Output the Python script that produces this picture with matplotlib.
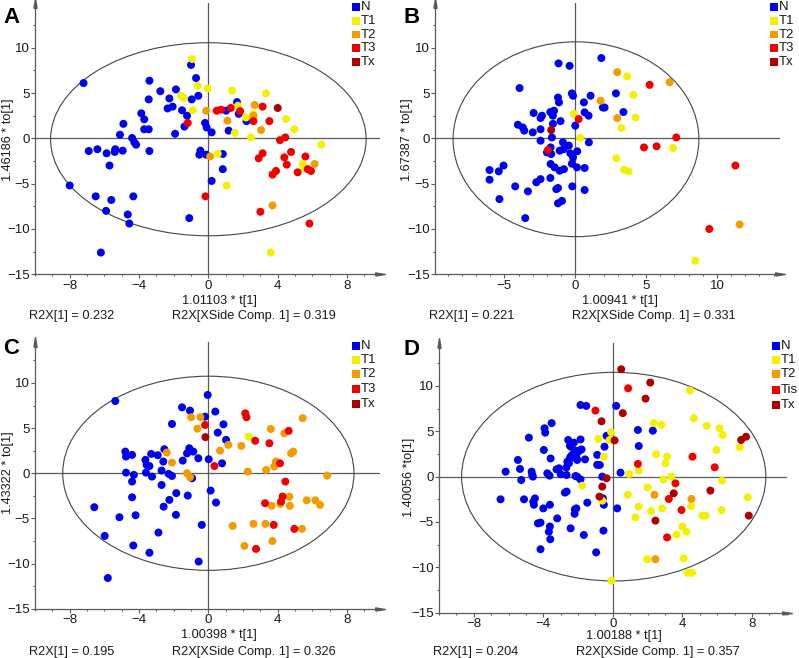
import matplotlib
matplotlib.use("Agg")
import matplotlib.pyplot as plt
from matplotlib.patches import Ellipse, Rectangle
from matplotlib.ticker import MultipleLocator

plt.rcParams['font.family'] = ['Liberation Sans', 'DejaVu Sans']

W, H = 799, 658

# ---------------- colours ----------------
COL = {'N': '#0000F0', 'T1': '#F2F200', 'T2': '#F29C00', 'T3': '#F00000',
       'Tis': '#F00000', 'Tx': '#AE0000'}

# ---------------- Panel A ----------------
A_N_x = [-7.2, -8.0, -6.2, -6.5, -5.9, -5.6, -4.65, -4.56, -4.33, -6.9, -6.4, -5.87, -5.7, -5.4, -5.37,
         -4.94, -4.9, -5.1, -4.4, -4.27, -4.17, -3.87, -3.7, -3.4, -3.44, -3.7, -3.44, -3.4, -2.77, -2.35,
         -2.25, -2.06, -1.92, -1.87, -1.52, -1.38, -1.23, -1.0, -0.96, -0.71, -0.58, -1.1, -0.19, -0.1, 0.19,
         -0.52, -0.46, -0.13, 0.19, 0.83, 0.83, 1.02, 1.17, 1.65, 1.75, 2.2]
A_N_y = [6.1, -5.2, -12.6, -6.4, -8.0, -6.8, -8.4, -9.4, -6.4, -1.4, -1.2, -1.65, -3.0, -1.5, -1.2,
         -1.36, 1.6, 0.4, 0.04, -0.44, -0.7, 2.76, 2.1, 6.36, 4.3, 1.0, 1.0, -1.4, 5.2, 3.3,
         4.4, 3.5, 0.5, 5.4, 3.1, 1.3, 2.5, 8.1, 4.3, 6.65, 4.7, -8.8, 1.7, 1.2, 0.66,
         -1.8, -1.36, -1.8, -4.7, -1.73, -3.4, 3.05, 0.85, 4.0, 2.7, 1.9]
A_T1_x = [-0.94, -1.58, -1.42, -0.9, -0.62, -0.04, 0.54, 1.06, 1.37, 1.52, 1.71, 2.17, 2.46, 2.6, 3.33,
          4.48, 4.96, 3.6, 5.44, 5.5, 6.52]
A_T1_y = [8.75, 4.7, 4.45, 3.1, 5.8, 5.5, -1.7, -5.2, 5.26, 0.6, 3.6, 2.3, 0.1, 2.7, 4.96,
          2.13, 1.0, -12.6, -2.83, -3.2, -0.7]
A_T2_x = [-0.13, 0.1, 1.1, 2.67, 2.6, 3.04, 3.7, 6.13]
A_T2_y = [3.05, -2.0, 1.95, 3.68, 2.5, 0.92, -7.4, -2.83]
A_T3_x = [-1.19, -0.17, 0.48, 0.73, 1.29, 1.83, 2.6, 3.13, 3.52, 3.13, 2.9, 3.0, 3.9, 3.7, 4.13,
          4.44, 4.38, 4.52, 4.77, 5.6, 5.15, 5.73, 5.92, 5.83]
A_T3_y = [1.7, -6.4, 3.05, 3.16, 3.35, 3.0, 1.9, 3.5, 1.9, -1.65, -2.2, -8.1, -3.6, -4.0, -0.2,
          0.1, -2.1, -2.9, -1.5, -2.0, -3.75, -3.4, -3.6, -9.4]
A_Tx_x = [4.0]
A_Tx_y = [3.35]

# ---------------- Panel B ----------------
B_N_x = [1.84, -1.18, -0.4, -3.93, -2.94, -4.05, -3.7, -3.6, -3.0, -2.45,
         -2.35, -2.45, -2.45, -1.22, -1.15, -1.76, -1.5, -1.58, -1.04, -1.58,
         -1.65, -1.74, -1.7, -2.0, -1.74, -1.46, -1.1, -0.8, -0.87, -0.82,
         -1.1, -0.45, -0.35, -0.16, -0.24, 0.14, 0.12, 0.66, 0.66, -0.21,
         -0.24, -0.16, 0.61, 0.66, 0.94, 1.08, 0.96, 0.0, 1.95, 2.07,
         2.87, 3.4, -6.05, -6.05, -5.4, -5.06, -5.35, -4.24, -3.34, -3.53,
         -2.75, -2.45, -1.76, -1.34, -1.22, -1.22, -0.94]
B_N_y = [8.86, 8.27, 8.0, 5.55, 2.8, 1.5, 1.2, 0.85, 0.66, 2.24,
         2.5, 1.0, -0.26, 4.5, 3.97, 2.9, 3.05, 2.5, 1.9, 1.6,
         0.1, -1.0, -1.73, -1.55, -2.83, -3.2, -3.57, -3.4, -0.44, -1.2,
         -1.36, -0.8, -1.65, -2.1, -2.8, -1.43, -3.2, -3.27, -5.7, -5.3,
         4.96, 4.7, 3.97, 2.87, 2.5, 4.7, -0.44, 1.4, 3.4, 3.4,
         4.96, 2.9, -3.5, -4.56, -3.64, -3.0, -6.7, -5.3, -5.85, -8.8,
         -4.85, -4.5, -4.37, -5.6, -5.48, -7.17, -6.9]
B_T1_x = [-0.1, 0.35, 3.67, 4.1, 4.26, 3.25, 2.9, 3.44, 3.76, 6.9, 8.47]
B_T1_y = [2.7, 0.04, 6.84, 4.8, 2.3, 1.14, -2.2, -3.46, -3.64, -1.07, -13.5]
B_T2_x = [2.96, 1.79, 2.96, 6.66, 11.6]
B_T2_y = [7.3, 4.15, 2.24, 6.2, -9.5]
B_T3_x = [0.24, -1.93, 5.25, 4.85, 5.74, 7.13, 11.3, 9.46]
B_T3_y = [2.13, -1.29, 5.9, -1.0, -0.88, 0.1, -3.0, -10.0]
B_Tx_x = [-1.7]
B_Tx_y = [0.92]

# ---------------- Panel C ----------------
C_N_x = [-5.37, -6.58, -5.98, -5.8, -5.13, -4.79, -4.75, -4.4, -4.75, -4.4,
         -4.3, -4.4, -4.2, -4.33, -3.63, -3.56, -3.6, -3.4, -3.3, -3.25,
         -3.4, -2.92, -2.88, -2.7, -2.7, -2.58, -2.54, -2.6, -2.29, -2.25,
         -2.1, -2.1, -1.87, -1.85, -1.52, -1.48, -1.23, -1.19, -1.06, -1.1,
         -0.87, -0.94, -0.58, -0.56, -0.38, -0.19, -0.04, 0.02, 0.13, 0.44,
         0.4, 0.54, 0.87, 0.79, 1.02]
C_N_y = [8.0, -3.76, -6.94, -11.6, -4.87, 2.4, 1.85, 2.03, 0.07, -0.92,
         -0.18, -2.66, -4.65, -8.0, 1.48, 0.92, 0.07, 0.8, 2.14, -0.37,
         -8.8, 2.0, -6.57, 0.3, -1.3, -3.7, 2.66, 1.3, -0.07, -2.95,
         -0.3, 5.46, -4.6, -2.2, 7.3, 1.4, 2.2, -2.47, 6.94, 2.77,
         2.4, -0.55, 1.66, -9.78, -5.72, 6.27, 8.67, 1.55, -1.92, -3.25,
         6.83, 4.5, 5.42, 1.1, 3.7]
C_T1_x = [2.33]
C_T1_y = [4.06]
C_T2_x = [-2.4, -2.1, -1.23, -1.06, -1.0, -0.46, -0.63, 0.67, 1.15, 1.9,
          1.4, 2.08, 2.6, 2.27, 3.29, 3.33, 3.6, 3.65, 3.69, 3.8,
          3.9, 4.15, 4.38, 4.67, 4.7, 4.77, 4.9, 5.44, 5.4, 5.67,
          6.17, 6.44, 6.85]
C_T2_y = [2.29, 1.18, 0.0, -0.44, 6.2, 6.2, 4.94, 2.5, 3.14, 3.03,
          -5.83, -8.04, -5.6, 0.18, -5.6, 0.37, 4.9, -3.6, -7.5, 0.74,
          1.3, -3.4, 4.43, -2.6, -3.6, 2.2, 2.4, 6.1, -6.16, -3.0,
          -3.0, -3.5, -0.26]
C_T3_x = [-0.19, 0.35, 2.13, 2.2, 2.7, 3.52, 3.27, 3.77, 2.75, 4.13, 4.19, 4.28, 4.44, 4.63, 4.96]
C_T3_y = [5.35, 0.8, 6.64, 6.2, 3.6, 3.32, -3.32, -5.72, -8.38, 1.1, -3.14, -2.58, -0.92, 4.7, -6.16]
C_Tx_x = [-0.17]
C_Tx_y = [4.0]

# ---------------- Panel D ----------------
D_N_x = [-6.46, -6.17, -5.46, -5.34, -5.27, -5.11, -4.83, -4.67, -4.64, -4.6,
         -4.58, -4.54, -4.48, -4.31, -4.16, -4.16, -4.0, -3.97, -3.93, -3.89,
         -3.77, -3.68, -3.62, -3.6, -3.58, -3.62, -3.52, -3.64, -3.2, -3.1,
         -3.0, -2.76, -2.68, -2.57, -2.53, -2.47, -2.4, -2.34, -2.43, -2.24,
         -2.2, -2.18, -2.15, -2.09, -1.92, -1.86, -1.86, -1.86, -1.67, -1.6,
         -1.53, -1.47, -0.96, -0.9, -0.75, -0.61, -0.57, -0.52, -0.48, -0.54,
         -0.36, 0.19, 0.25, 0.44, 1.44, 1.49, 2.3, -2.47, -2.43, -2.05,
         -2.62, -3.24, -2.66, -2.05, -2.66, -2.1, -2.05, -0.9, -2.2, -1.8]
D_N_y = [-2.5, 0.55, 1.84, 0.85, -0.37, -2.5, 4.3, 0.55, 0.18, 0.0,
         -2.76, -3.1, -2.4, -5.15, -5.07, -8.0, -3.5, 2.94, 5.33, 4.85,
         0.37, -6.07, -5.5, -6.9, 2.0, -3.1, 5.9, 0.11, -4.6, 0.92,
         0.26, -1.76, 1.0, 4.04, 1.47, 2.0, 3.3, 2.4, -5.7, 3.75,
         -4.1, -3.6, 0.07, 2.0, 2.87, 4.1, 7.9, -0.3, -6.43, 1.9,
         7.8, -2.87, -8.35, 2.4, 1.29, 0.0, -2.39, -3.1, 3.3, -5.95,
         4.5, 7.8, -3.5, 0.44, 5.15, 3.38, 5.07, 3.4, 2.2, 1.84,
         1.65, 0.81, 0.18, 0.0, -1.65, -3.5, 2.65, 1.3, 2.9, 3.0]
D_T1_x = [-1.76, -0.84, -0.52, -0.1, -0.19, -0.61, -0.08, 0.94, 0.86, 1.49,
          1.48, 1.3, 2.0, 2.2, 2.36, 2.49, 2.8, 2.84, 3.03, 3.12,
          2.9, 3.37, 3.66, 4.0, 4.23, 4.08, 4.31, 4.56, 4.44, 4.66,
          4.5, 1.97, 5.33, 5.4, 6.13, 6.32, 5.96, 6.28, 6.25, 7.3,
          7.76, 5.15]
D_T1_y = [-1.0, 4.15, 2.2, 4.9, 4.04, -2.65, -11.47, 0.3, -2.0, 0.66,
          -3.3, -4.5, -1.18, -3.8, 5.9, 2.46, 5.7, -3.5, 1.47, 2.2,
          -0.3, 0.0, -6.4, -5.5, -6.07, -9.0, -10.6, -10.6, 9.5, 6.43,
          -3.24, -9.1, -4.3, 5.6, 5.33, 4.6, 2.94, -0.44, -3.68, 3.23,
          -2.28, -4.3]
D_T2_x = [2.39, 2.45, 4.52]
D_T2_y = [-2.0, -9.1, -2.46]
D_Tis_x = [-1.0, 0.88, 1.44, 3.6, 3.22, 3.12, 3.95, 4.58, 5.86]
D_Tis_y = [7.28, 9.74, 1.4, -0.74, -2.46, -6.7, -3.68, 2.2, 1.03]
D_Tx_x = [0.48, 2.15, 1.88, 0.57, -0.65, 0.1, -0.36, -0.61, -0.77, 2.45, 3.5, 5.61, 7.38, 7.66, 7.82]
D_Tx_y = [11.84, 10.37, 8.6, 7.0, 6.1, 4.0, -0.18, -1.1, -2.2, -4.85, -1.84, -1.54, 4.04, 4.4, -4.3]

# ---------------- text ----------------
A_xlabel, A_ylabel = "1.01103 * t[1]", "1.46186 * to[1]"
B_xlabel, B_ylabel = "1.00941 * t[1]", "1.67387 * to[1]"
C_xlabel, C_ylabel = "1.00398 * t[1]", "1.43322 * to[1]"
D_xlabel, D_ylabel = "1.00188 * t[1]", "1.40056 *to[1]"
A_r2 = ["R2X[1] = 0.232", "R2X[XSide Comp. 1] = 0.319"]
B_r2 = ["R2X[1] = 0.221", "R2X[XSide Comp. 1] = 0.331"]
C_r2 = ["R2X[1] = 0.195", "R2X[XSide Comp. 1] = 0.326"]
D_r2 = ["R2X[1] = 0.204", "R2X[XSide Comp. 1] = 0.357"]
ABC_classes = ['N', 'T1', 'T2', 'T3', 'Tx']
D_classes = ['N', 'T1', 'T2', 'Tis', 'Tx']

GRAY = '#5a5a5a'
TXT = '#1a1a1a'
FS_TICK = 9.5
FS = 9.2

# narrow arrow-head markers
ARROW_UP = [(-0.32, -1.0), (0.32, -1.0), (0.0, 1.0), (-0.32, -1.0)]
ARROW_RIGHT = [(-1.0, -0.32), (-1.0, 0.32), (1.0, 0.0), (-1.0, -0.32)]

fig = plt.figure(figsize=(W / 100, H / 100), dpi=100)


def fx(x):
    return x / W


def fy(y):
    return 1 - y / H


def make_axes(left, right, top, bottom):
    return fig.add_axes([fx(left), fy(bottom), (right - left) / W, (bottom - top) / H])


def panel(ax, series, xlim, ylim, xmajor, ell):
    ax.set_xlim(*xlim)
    ax.set_ylim(*ylim)
    ax.set_facecolor('none')
    for s in ['top', 'right']:
        ax.spines[s].set_visible(False)
    for s in ['left', 'bottom']:
        ax.spines[s].set_color(GRAY)
        ax.spines[s].set_linewidth(0.9)
    ax.xaxis.set_major_locator(MultipleLocator(xmajor))
    ax.xaxis.set_minor_locator(MultipleLocator(1))
    ax.yaxis.set_major_locator(MultipleLocator(5))
    ax.yaxis.set_minor_locator(MultipleLocator(2.5))
    ax.tick_params(which='both', direction='out', color=GRAY, labelcolor=TXT, labelsize=FS_TICK, width=0.8)
    ax.tick_params(which='major', length=2.6, pad=1.2)
    ax.tick_params(which='minor', length=1.6)
    ax.axhline(0, color=GRAY, lw=0.9, zorder=1)
    ax.axvline(0, color=GRAY, lw=0.9, zorder=1)
    e = Ellipse(ell[0], ell[1], ell[2], fill=False, edgecolor='#444444', lw=0.8, zorder=1)
    ax.add_patch(e)
    for (xs, ys, c) in series:
        n = min(len(xs), len(ys))
        ax.scatter(xs[:n], ys[:n], s=33, color=COL[c], edgecolors='none', zorder=3)
    # axis arrows
    ax.plot([0], [1], marker=ARROW_UP, color=GRAY, ms=7, transform=ax.transAxes, clip_on=False, zorder=5)
    ax.plot([1], [0], marker=ARROW_RIGHT, color=GRAY, ms=7, transform=ax.transAxes, clip_on=False, zorder=5)


def legend(xsq, rows, labels):
    for yy, lab in zip(rows, labels):
        fig.patches.append(Rectangle((fx(xsq - 3.8), fy(yy + 3.8)), 7.6 / W, 7.6 / H,
                                     transform=fig.transFigure, facecolor=COL[lab], edgecolor='none'))
        fig.text(fx(xsq + 4.5), fy(yy), lab, fontsize=FS_TICK, color=TXT, va='center', ha='left')


def texts(letter, lpos, xlabel, xlpos, ylabel, ylpos, r2, r2y, r2x):
    fig.text(fx(lpos[0]), fy(lpos[1]), letter, fontsize=16, fontweight='bold', va='top', ha='left')
    fig.text(fx(xlpos[0]), fy(xlpos[1]), xlabel, fontsize=FS, color=TXT, ha='center', va='center')
    fig.text(fx(ylpos[0]), fy(ylpos[1]), ylabel, fontsize=FS, color=TXT, ha='center', va='center',
             rotation=90)
    fig.text(fx(r2x[0]), fy(r2y), r2[0], fontsize=FS, color=TXT, ha='left', va='center')
    fig.text(fx(r2x[1]), fy(r2y), r2[1], fontsize=FS, color=TXT, ha='left', va='center')


# Panel A
axA = make_axes(35, 380, 3.3, 274.3)
panel(axA, [(A_N_x, A_N_y, 'N'), (A_T1_x, A_T1_y, 'T1'), (A_T2_x, A_T2_y, 'T2'),
            (A_T3_x, A_T3_y, 'T3'), (A_Tx_x, A_Tx_y, 'Tx')],
      (-10, 9.9), (-15, 14.9), 4, ((0, -0.1), 18.2, 21.3))
texts('A', (3, 7), A_xlabel, (219, 301), A_ylabel, (8, 140), A_r2, 316.5, (29, 172))
legend(356, [7, 21, 34.5, 48, 62], ABC_classes)

# Panel B
axB = make_axes(435, 780, 3.3, 274.3)
panel(axB, [(B_N_x, B_N_y, 'N'), (B_T1_x, B_T1_y, 'T1'), (B_T2_x, B_T2_y, 'T2'),
            (B_T3_x, B_T3_y, 'T3'), (B_Tx_x, B_Tx_y, 'Tx')],
      (-9.9, 14.45), (-15, 14.9), 5, ((0.05, -0.1), 17.35, 21.5))
texts('B', (403, 7), B_xlabel, (620, 301), B_ylabel, (407, 140), B_r2, 316.5, (429, 572))
legend(774, [7, 21, 34.5, 48, 62], ABC_classes)

# Panel C
axC = make_axes(35, 380, 341.7, 608.7)
panel(axC, [(C_N_x, C_N_y, 'N'), (C_T1_x, C_T1_y, 'T1'), (C_T2_x, C_T2_y, 'T2'),
            (C_T3_x, C_T3_y, 'T3'), (C_Tx_x, C_Tx_y, 'Tx')],
      (-10, 9.9), (-15, 14.57), 4, ((0, 0), 16.8, 21.5))
texts('C', (3, 338), C_xlabel, (219, 635), C_ylabel, (8, 473), C_r2, 651.5, (29, 172))
legend(356, [346, 360, 374, 389, 404], ABC_classes)

# Panel D
axD = make_axes(439, 786.7, 343.3, 612.7)
panel(axD, [(D_N_x, D_N_y, 'N'), (D_T1_x, D_T1_y, 'T1'), (D_T2_x, D_T2_y, 'T2'),
            (D_Tis_x, D_Tis_y, 'Tis'), (D_Tx_x, D_Tx_y, 'Tx')],
      (-10, 10.0), (-15, 14.7), 4, ((0.05, 0), 17.5, 23.0))
texts('D', (403, 339), D_xlabel, (624, 636), D_ylabel, (409, 477), D_r2, 652, (433, 576))
legend(776, [346, 360, 374, 390, 405], D_classes)

fig.savefig('out.png', dpi=100)
